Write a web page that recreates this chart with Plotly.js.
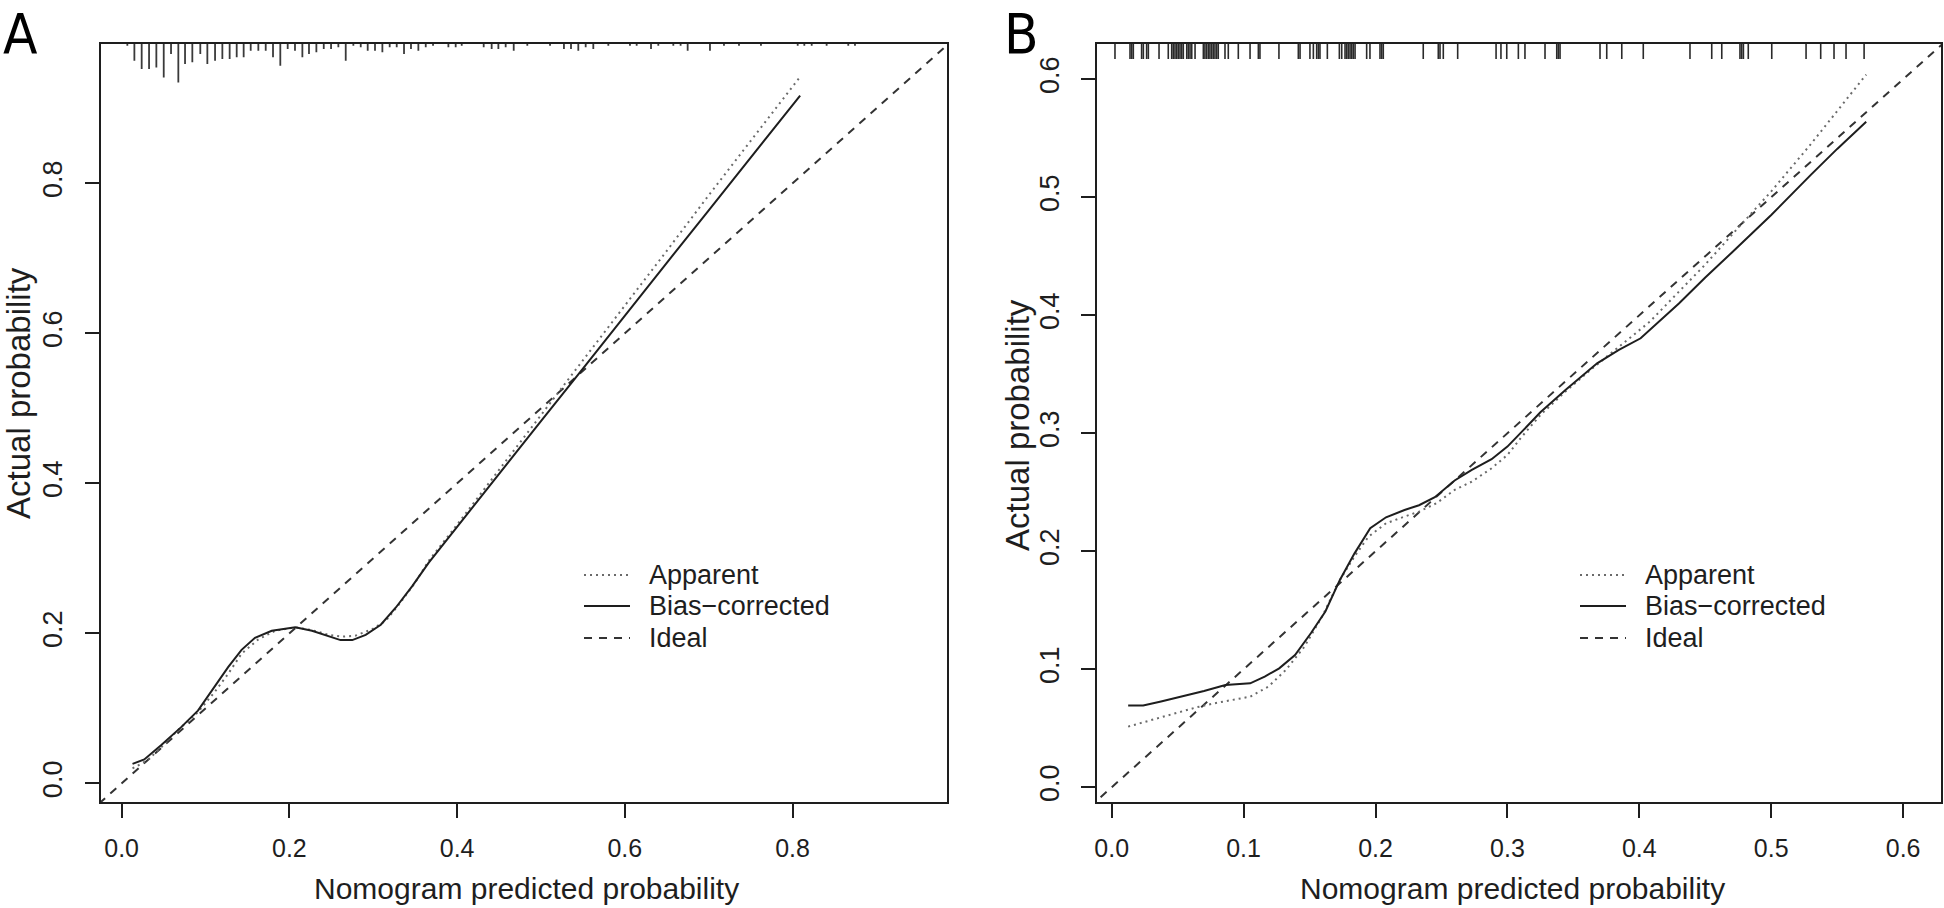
<!DOCTYPE html>
<html>
<head>
<meta charset="utf-8">
<script src="https://cdn.plot.ly/plotly-3.0.1.min.js"></script>
<style>
html,body{margin:0;padding:0;background:#ffffff;}
#chart{width:1944px;height:908px;}
</style>
</head>
<body>
<div id="chart"></div>
<script>
// ---------------- data ----------------
// Panel A
const appA_x = [0.013,0.031,0.050,0.067,0.091,0.111,0.127,0.143,0.163,0.183,0.207,0.227,0.247,0.263,0.279,0.299,0.315,0.331,0.350,0.366,0.400,0.450,0.500,0.550,0.600,0.650,0.700,0.750,0.809];
const appA_y = [0.020,0.031,0.051,0.071,0.095,0.122,0.146,0.173,0.192,0.2035,0.208,0.2044,0.198,0.1956,0.197,0.2058,0.2168,0.239,0.2677,0.2965,0.345,0.418,0.490,0.563,0.636,0.710,0.784,0.857,0.942];
const bcA_x = [0.013,0.027,0.047,0.071,0.091,0.109,0.127,0.143,0.159,0.179,0.207,0.227,0.247,0.261,0.275,0.291,0.309,0.327,0.3465,0.366,0.400,0.450,0.500,0.550,0.600,0.650,0.700,0.750,0.809];
const bcA_y = [0.026,0.032,0.051,0.075,0.097,0.126,0.155,0.178,0.194,0.2035,0.208,0.2035,0.1956,0.191,0.191,0.198,0.2115,0.2345,0.263,0.294,0.342,0.413,0.483,0.553,0.624,0.694,0.764,0.834,0.917];
const rugA_x = [0.0068,0.0152,0.0239,0.0327,0.0414,0.0502,0.0589,0.0676,0.0756,0.0843,0.0938,0.1022,0.1114,0.1201,0.1288,0.1372,0.1455,0.1539,0.163,0.1718,0.1805,0.1892,0.198,0.2067,0.2155,0.2234,0.2322,0.241,0.2497,0.2584,0.2672,0.2763,0.2851,0.2934,0.3021,0.3109,0.3196,0.328,0.3367,0.345,0.3538,0.3626,0.3713,0.3896,0.3983,0.4055,0.4317,0.4412,0.4492,0.4579,0.4675,0.4837,0.5108,0.5274,0.5358,0.5445,0.5533,0.5624,0.5803,0.6061,0.6141,0.6312,0.6399,0.6578,0.6665,0.6749,0.7015,0.7182,0.7361,0.7623,0.8061,0.814,0.8228,0.8406,0.8664,0.8744];
const rugA_count = [1,10,15,15,14,20,6,23,12,11,6,12,10,9,9,8,8,4,4,4,8,13,3,4,8,6,5,3,3,2,10,1,2,4,4,5,2,2,6,3,4,2,1,2,2,1,2,3,3,2,4,1,1,3,3,4,2,3,1,1,1,3,1,1,1,4,4,1,1,1,1,1,1,1,1,1];
const ticksA = [0.0,0.2,0.4,0.6,0.8];

// Panel B
const appB_x = [0.0125,0.0374,0.0645,0.078,0.0917,0.105,0.1188,0.132,0.146,0.1595,0.173,0.184,0.1947,0.208,0.222,0.233,0.2462,0.260,0.273,0.288,0.300,0.311,0.325,0.344,0.363,0.3845,0.408,0.430,0.450,0.470,0.500,0.530,0.550,0.572];
const appB_y = [0.0514,0.0593,0.0678,0.0712,0.074,0.0768,0.0853,0.0994,0.119,0.1446,0.1757,0.1955,0.2124,0.2237,0.2294,0.2336,0.2407,0.252,0.259,0.2703,0.2816,0.2972,0.3155,0.3353,0.3537,0.3734,0.3946,0.420,0.443,0.468,0.505,0.545,0.573,0.604];
const bcB_x = [0.0125,0.0239,0.0374,0.0537,0.070,0.0862,0.105,0.116,0.127,0.139,0.151,0.162,0.173,0.184,0.196,0.208,0.222,0.233,0.245,0.260,0.273,0.288,0.300,0.311,0.325,0.344,0.368,0.3845,0.401,0.430,0.450,0.470,0.500,0.530,0.550,0.572];
const bcB_y = [0.0692,0.0692,0.0726,0.0768,0.0816,0.0867,0.0881,0.0938,0.1008,0.112,0.1305,0.149,0.1757,0.198,0.2195,0.2288,0.235,0.239,0.2458,0.260,0.269,0.278,0.2887,0.3014,0.3178,0.3367,0.3593,0.3706,0.3805,0.410,0.432,0.453,0.485,0.519,0.541,0.564];
const rugB_x = [0.0025,0.0139,0.0152,0.0164,0.0227,0.024,0.0265,0.0278,0.0359,0.0429,0.0455,0.0467,0.048,0.0493,0.0505,0.0518,0.0531,0.0543,0.0569,0.0581,0.0594,0.0607,0.0632,0.0695,0.0707,0.072,0.0733,0.0745,0.0758,0.077,0.0783,0.0796,0.0808,0.0859,0.0884,0.096,0.1049,0.1112,0.1124,0.1268,0.1415,0.1428,0.1503,0.1529,0.1554,0.1567,0.1579,0.1635,0.1726,0.1744,0.1769,0.1782,0.1794,0.1807,0.182,0.1832,0.1845,0.1933,0.1958,0.2034,0.2047,0.2059,0.2362,0.2476,0.2489,0.2514,0.2623,0.2914,0.2951,0.2995,0.3083,0.3133,0.3285,0.3374,0.3386,0.3399,0.3702,0.3753,0.3867,0.403,0.4384,0.4549,0.4625,0.4763,0.4776,0.4789,0.4826,0.5004,0.5264,0.5375,0.5476,0.5567,0.5704];
const ticksB = [0.0,0.1,0.2,0.3,0.4,0.5,0.6];

const idealLine = [-1, 2];
const legendLabels = ["Apparent", "Bias\u2212corrected", "Ideal"];
const xTitle = "Nomogram predicted probability";
const yTitle = "Actual probability";
const panelLabels = ["A", "B"];

// ---------------- layout geometry / styles ----------------
const W = 1944, H = 908;
const PX = v => v / W;
const PY = v => 1 - v / H;
const boxTop = 44, boxBot = 802;
const A_left = 101, A_right = 947.4, B_left = 1097.3, B_right = 1941.4;
const rangeAx = [-0.0246, 0.9846], rangeAy = [-0.0248, 0.9857];
const rangeBx = [-0.0109, 0.629], rangeBy = [-0.0125, 0.6299];
const FONT = "Liberation Sans, Arial, Helvetica, sans-serif";
const INK = "#1e1e1e";

const pxPerUnitAy = (boxBot - boxTop) / (rangeAy[1] - rangeAy[0]);
const pxPerUnitBy = (boxBot - boxTop) / (rangeBy[1] - rangeBy[0]);
const rugPxPerCount = 1.67;
const rugBPx = 15;

function rugSegs(xs, lens, top) {
  const x = [], y = [];
  xs.forEach((v, i) => { x.push(v, v, null); y.push(top, top - lens[i], null); });
  return {x, y};
}
const rA = rugSegs(rugA_x, rugA_count.map(c => c * rugPxPerCount / pxPerUnitAy), rangeAy[1]);
const rB = rugSegs(rugB_x, rugB_x.map(() => rugBPx / pxPerUnitBy), rangeBy[1]);

const dotStyle = {color: "#6a6a6a", width: 2, dash: "2px,4px"};
const solidStyle = {color: INK, width: 2};
const dashStyle = {color: "#333333", width: 2, dash: "8px,7px"};

const traces = [
  {x: rA.x, y: rA.y, xaxis: "x", yaxis: "y", mode: "lines", line: {color: "#3a3a3a", width: 1.8}, hoverinfo: "skip", showlegend: false},
  {x: idealLine, y: idealLine, xaxis: "x", yaxis: "y", mode: "lines", line: dashStyle, name: legendLabels[2], showlegend: false},
  {x: appA_x, y: appA_y, xaxis: "x", yaxis: "y", mode: "lines", line: dotStyle, name: legendLabels[0], showlegend: false},
  {x: bcA_x, y: bcA_y, xaxis: "x", yaxis: "y", mode: "lines", line: solidStyle, name: legendLabels[1], showlegend: false},
  {x: rB.x, y: rB.y, xaxis: "x2", yaxis: "y2", mode: "lines", line: {color: "#2a2a2a", width: 1.6}, hoverinfo: "skip", showlegend: false},
  {x: idealLine, y: idealLine, xaxis: "x2", yaxis: "y2", mode: "lines", line: dashStyle, name: legendLabels[2], showlegend: false},
  {x: appB_x, y: appB_y, xaxis: "x2", yaxis: "y2", mode: "lines", line: dotStyle, name: legendLabels[0], showlegend: false},
  {x: bcB_x, y: bcB_y, xaxis: "x2", yaxis: "y2", mode: "lines", line: solidStyle, name: legendLabels[1], showlegend: false}
];

function axisBase(extra) {
  return Object.assign({
    showgrid: false, zeroline: false, showline: true, mirror: true,
    linecolor: INK, linewidth: 2, ticks: "outside", ticklen: 14, tickwidth: 2, tickcolor: INK,
    tickfont: {family: FONT, size: 25, color: INK}, tickformat: ".1f", tickmode: "array",
    fixedrange: true
  }, extra);
}
const yTickFont = {family: FONT, size: 27, color: INK};

const domY = [PY(boxBot), PY(boxTop)];
const layout = {
  width: W, height: H,
  margin: {l: 0, r: 0, t: 0, b: 0, pad: 0},
  paper_bgcolor: "#ffffff", plot_bgcolor: "#ffffff",
  showlegend: false,
  xaxis: axisBase({domain: [PX(A_left), PX(A_right)], range: rangeAx, tickvals: ticksA, anchor: "y", ticklabelstandoff: 9}),
  yaxis: axisBase({domain: domY, range: rangeAy, tickvals: ticksA, anchor: "x", tickangle: -90, ticklabelstandoff: 12, tickfont: yTickFont}),
  xaxis2: axisBase({domain: [PX(B_left), PX(B_right)], range: rangeBx, tickvals: ticksB, anchor: "y2", ticklabelstandoff: 9}),
  yaxis2: axisBase({domain: domY, range: rangeBy, tickvals: ticksB, anchor: "x2", tickangle: -90, ticklabelstandoff: 12, tickfont: yTickFont}),
  shapes: [],
  annotations: []
};

// legends (drawn per panel)
const legendRows = [575, 606, 638];
const legendStyles = [dotStyle, solidStyle, dashStyle];
[[584, 630, 647], [1580, 1626, 1643]].forEach(([x0, x1, xt]) => {
  legendRows.forEach((ry, i) => {
    layout.shapes.push({type: "line", xref: "paper", yref: "paper", x0: PX(x0), x1: PX(x1), y0: PY(ry), y1: PY(ry), line: legendStyles[i]});
    layout.annotations.push({xref: "paper", yref: "paper", x: PX(xt), y: PY(ry), xanchor: "left", yanchor: "middle", showarrow: false,
      text: legendLabels[i], font: {family: FONT, size: 27, color: INK}});
  });
});

// axis titles
[[526, 18, 393], [1512, 1017, 425]].forEach(([xc, yx, yc]) => {
  layout.annotations.push({xref: "paper", yref: "paper", x: PX(xc), y: PY(888), xanchor: "center", yanchor: "middle", showarrow: false,
    text: xTitle, font: {family: FONT, size: 30, color: INK}});
  layout.annotations.push({xref: "paper", yref: "paper", x: PX(yx), y: PY(yc), xanchor: "center", yanchor: "middle", showarrow: false,
    textangle: -90, text: yTitle, font: {family: FONT, size: 33, color: INK}});
});

// panel letters
[[2, panelLabels[0]], [1003, panelLabels[1]]].forEach(([lx, t]) => {
  layout.annotations.push({xref: "paper", yref: "paper", x: PX(lx), y: PY(0), xanchor: "left", yanchor: "top", showarrow: false,
    borderpad: 0, text: t, font: {family: "Liberation Sans Narrow, DejaVu Sans Condensed, Arial Narrow, sans-serif", size: 56, color: "#000000"}});
});

Plotly.newPlot("chart", traces, layout, {staticPlot: true, displayModeBar: false});
</script>
</body>
</html>
